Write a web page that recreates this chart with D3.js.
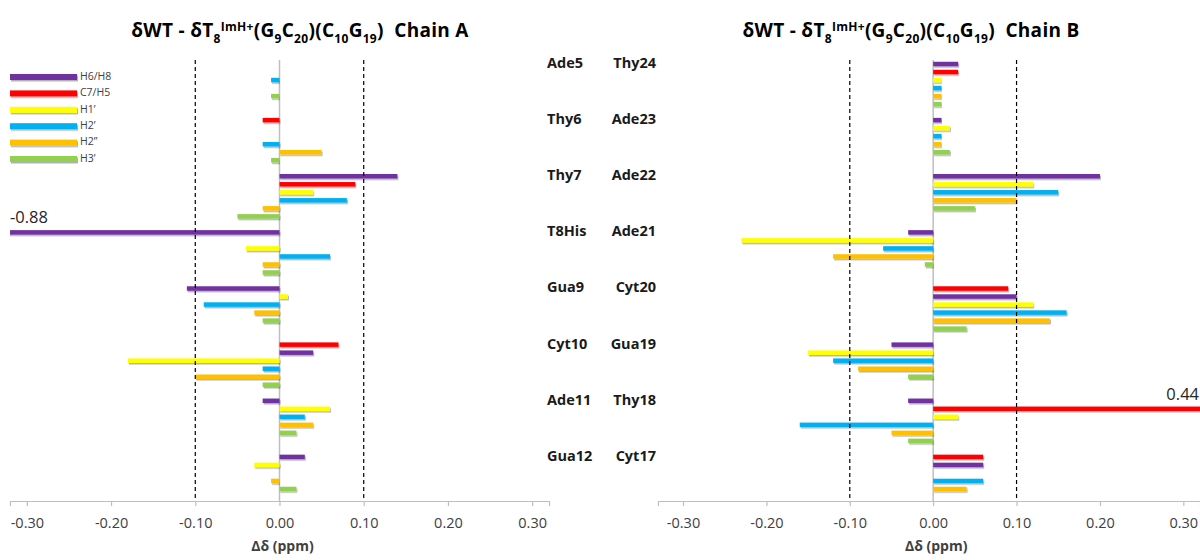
<!DOCTYPE html>
<html>
<head>
<meta charset="utf-8">
<script src="https://cdn.jsdelivr.net/npm/d3@7"></script>
<style>
  body { margin: 0; background: #fff; }
  svg { display: block; font-family: "Open Sans", "DejaVu Sans", sans-serif; }
  .tick text { fill: #404040; }
</style>
</head>
<body>
<script>
//wrap everything in a self-executing anonymous function
(function(){

//series (legend) names and colours
var seriesNames = ["H6/H8", "C7/H5", "H1\u2019", "H2\u2019", "H2\u201D", "H3\u2019"];
var seriesColors = ["#7030a0", "#ff0000", "#ffff00", "#00b0f0", "#ffc000", "#92d050"];

//residue labels, top to bottom
var chainAResidues = ["Ade5", "Thy6", "Thy7", "T8His", "Gua9", "Cyt10", "Ade11", "Gua12"];
var chainBResidues = ["Thy24", "Ade23", "Ade22", "Ade21", "Cyt20", "Gua19", "Thy18", "Cyt17"];

//chain A values, one array per series (null = proton not present)
var chainA_H6H8 = [0, 0, 0.14, -0.88, -0.11, 0.04, -0.02, 0.03];
var chainA_C7H5 = [null, -0.02, 0.09, 0, null, 0.07, null, null];
var chainA_H1p  = [0, 0, 0.04, -0.04, 0.01, -0.18, 0.06, -0.03];
var chainA_H2p  = [-0.01, -0.02, 0.08, 0.06, -0.09, -0.02, 0.03, 0];
var chainA_H2pp = [0, 0.05, -0.02, -0.02, -0.03, -0.10, 0.04, -0.01];
var chainA_H3p  = [-0.01, -0.01, -0.05, -0.02, -0.02, -0.02, 0.02, 0.02];

//chain B values
var chainB_H6H8 = [0.03, 0.01, 0.20, -0.03, 0.10, -0.05, -0.03, 0.06];
var chainB_C7H5 = [0.03, null, null, null, 0.09, null, 0.44, 0.06];
var chainB_H1p  = [0.01, 0.02, 0.12, -0.23, 0.12, -0.15, 0.03, 0];
var chainB_H2p  = [0.01, 0.01, 0.15, -0.06, 0.16, -0.12, -0.16, 0.06];
var chainB_H2pp = [0.01, 0.01, 0.10, -0.12, 0.14, -0.09, -0.05, 0.04];
var chainB_H3p  = [0.01, 0.02, 0.05, -0.01, 0.04, -0.03, -0.03, 0];

//order of the rows inside each residue group (index into seriesNames)
var chainAOrder = [[0,2,3,4,5], [1,0,2,3,4,5], [0,1,2,3,4,5], [0,1,2,3,4,5],
                   [0,2,3,4,5], [1,0,2,3,4,5], [0,2,3,4,5], [0,2,3,4,5]];
var chainBOrder = [[0,1,2,3,4,5], [0,2,3,4,5], [0,2,3,4,5], [0,2,3,4,5],
                   [1,0,2,3,4,5], [0,2,3,4,5], [0,1,2,3,4,5], [1,0,2,3,4,5]];

//axis ticks and guide lines
var tickValues = [-0.3, -0.2, -0.1, 0, 0.1, 0.2, 0.3];
var guideValues = [-0.1, 0.1];

//layout
var width = 1200, height = 560;
var plotTop = 60, plotBottom = 501;
var slotsPerGroup = 7, slotCount = 55;

//plain hyphen instead of d3's unicode minus
var fmt = function(v){ return d3.format(".2f")(v).replace("\u2212", "-"); };

var svg = d3.select("body")
  .append("svg")
  .attr("width", width)
  .attr("height", height);

//soft shadow under the bars
var defs = svg.append("defs");
defs.append("filter")
  .attr("id", "shadow")
  .attr("x", "-5%").attr("y", "-50%")
  .attr("width", "110%").attr("height", "250%")
  .append("feDropShadow")
  .attr("dx", 1).attr("dy", 1.5)
  .attr("stdDeviation", 0.7)
  .attr("flood-color", "#000")
  .attr("flood-opacity", 0.3);

var yScale = d3.scaleBand()
  .domain(d3.range(slotCount))
  .range([plotTop, plotBottom]);

var barHeight = 4.5;

var chartA = {
  id: "A",
  residues: chainAResidues,
  order: chainAOrder,
  values: [chainA_H6H8, chainA_C7H5, chainA_H1p, chainA_H2p, chainA_H2pp, chainA_H3p],
  domain: [-0.32, 0.32],
  range: [10, 549],
  titleX: 300
};
var chartB = {
  id: "B",
  residues: chainBResidues,
  order: chainBOrder,
  values: [chainB_H6H8, chainB_C7H5, chainB_H1p, chainB_H2p, chainB_H2pp, chainB_H3p],
  domain: [-0.33, 0.32],
  range: [658, 1200],
  titleX: 911
};

drawChart(chartA);
drawChart(chartB);
drawResidueLabels();
drawLegend();

//build one row per bar from the series arrays
function makeRows(chart){
  var rows = [];
  chart.order.forEach(function(order, g){
    order.forEach(function(s, pos){
      var v = chart.values[s][g];
      if (v === null) return;
      rows.push({slot: g * slotsPerGroup + pos, series: s, value: v});
    });
  });
  return rows;
};

function drawChart(chart){
  var x = d3.scaleLinear()
    .domain(chart.domain)
    .range(chart.range);

  var g = svg.append("g").attr("class", "chart" + chart.id);

  defs.append("clipPath")
    .attr("id", "clip" + chart.id)
    .append("rect")
    .attr("x", chart.range[0])
    .attr("y", 0)
    .attr("width", chart.range[1] - chart.range[0])
    .attr("height", height);

  //zero line
  g.append("line")
    .attr("x1", x(0)).attr("x2", x(0))
    .attr("y1", plotTop).attr("y2", plotBottom)
    .attr("stroke", "#bfbfbf")
    .attr("stroke-width", 1.5);

  //bars
  var rows = makeRows(chart).filter(function(d){ return d.value !== 0; });
  g.append("g")
    .attr("clip-path", "url(#clip" + chart.id + ")")
    .selectAll(".bar")
    .data(rows)
    .enter()
    .append("rect")
    .attr("class", "bar")
    .attr("x", function(d){ return x(Math.min(0, d.value)); })
    .attr("width", function(d){ return Math.abs(x(d.value) - x(0)); })
    .attr("y", function(d){ return yScale(d.slot) + (yScale.bandwidth() - barHeight) / 2; })
    .attr("height", barHeight)
    .attr("fill", function(d){ return seriesColors[d.series]; })
    .attr("filter", "url(#shadow)");

  //dashed +/-0.1 guides
  g.selectAll(".guide")
    .data(guideValues)
    .enter()
    .append("line")
    .attr("class", "guide")
    .attr("x1", function(d){ return x(d); })
    .attr("x2", function(d){ return x(d); })
    .attr("y1", plotTop)
    .attr("y2", plotBottom)
    .attr("stroke", "#000")
    .attr("stroke-width", 1.2)
    .attr("stroke-dasharray", "4,3");

  //values that run off the plot get a number label
  rows.filter(function(d){ return d.value < chart.domain[0] || d.value > chart.domain[1]; })
    .forEach(function(d){
      var yy = yScale(d.slot) - 5;
      g.append("text")
        .attr("x", d.value < 0 ? chart.range[0] : chart.range[1] - 1)
        .attr("y", yy)
        .attr("text-anchor", d.value < 0 ? "start" : "end")
        .attr("font-size", 16.5)
        .attr("fill", "#262626")
        .text(fmt(d.value));
    });

  //x axis
  var xAxis = d3.axisBottom(x)
    .tickValues(tickValues)
    .tickFormat(fmt)
    .tickSize(5)
    .tickPadding(12);

  var axis = g.append("g")
    .attr("class", "axis")
    .attr("transform", "translate(0," + plotBottom + ")")
    .call(xAxis);
  axis.select(".domain").attr("stroke", "#bfbfbf").attr("stroke-width", 1.2);
  axis.selectAll(".tick line").attr("stroke", "#bfbfbf").attr("stroke-width", 1.2);
  axis.selectAll(".tick text")
    .attr("font-size", 14.5)
    .attr("font-family", "Open Sans, sans-serif");

  g.append("text")
    .attr("x", x(0) + 3)
    .attr("y", 551)
    .attr("text-anchor", "middle")
    .attr("font-size", 14)
    .attr("font-weight", "bold")
    .attr("fill", "#404040")
    .text("\u0394\u03B4 (ppm)");

  //title with sub- and superscripts
  var title = g.append("text")
    .attr("x", chart.titleX)
    .attr("y", 37)
    .attr("text-anchor", "middle")
    .attr("font-size", 19)
    .attr("font-weight", "bold")
    .attr("letter-spacing", 0.3)
    .attr("fill", "#000");
  var parts = [
    ["\u03B4WT - \u03B4T", 0], ["8", 1], ["ImH+", -1], ["(G", 0], ["9", 1], ["C", 0], ["20", 1],
    [")(C", 0], ["10", 1], ["G", 0], ["19", 1], [")\u00A0\u00A0Chain " + chart.id, 0]
  ];
  var level = 0;
  parts.forEach(function(p){
    var shift = (p[1] - level) * 6;
    title.append("tspan")
      .attr("dy", shift)
      .attr("font-size", p[1] === 0 ? 19 : 12)
      .text(p[0]);
    level = p[1];
  });
};

//residue pair labels between the two charts
function drawResidueLabels(){
  var labels = svg.append("g").attr("class", "residues")
    .attr("font-size", 14.5)
    .attr("font-weight", "bold")
    .attr("fill", "#1a1a1a");

  labels.selectAll(".resA")
    .data(chainAResidues)
    .enter()
    .append("text")
    .attr("x", 547)
    .attr("y", function(d, i){ return yScale(i * slotsPerGroup) + yScale.bandwidth() / 2; })
    .attr("dominant-baseline", "middle")
    .text(function(d){ return d; });

  labels.selectAll(".resB")
    .data(chainBResidues)
    .enter()
    .append("text")
    .attr("x", 656)
    .attr("y", function(d, i){ return yScale(i * slotsPerGroup) + yScale.bandwidth() / 2; })
    .attr("dominant-baseline", "middle")
    .attr("text-anchor", "end")
    .text(function(d){ return d; });
};

//legend at top left of chain A
function drawLegend(){
  var legend = svg.append("g").attr("class", "legend");
  var items = legend.selectAll(".item")
    .data(seriesNames)
    .enter()
    .append("g")
    .attr("transform", function(d, i){ return "translate(10," + (77 + i * 16.4) + ")"; });

  items.append("rect")
    .attr("x", 0).attr("y", -3)
    .attr("width", 67).attr("height", 6)
    .attr("fill", function(d, i){ return seriesColors[i]; })
    .attr("filter", "url(#shadow)");

  items.append("text")
    .attr("x", 70)
    .attr("dominant-baseline", "middle")
    .attr("font-size", 10.5)
    .attr("fill", "#404040")
    .text(function(d){ return d; });
};

})();
</script>
</body>
</html>
